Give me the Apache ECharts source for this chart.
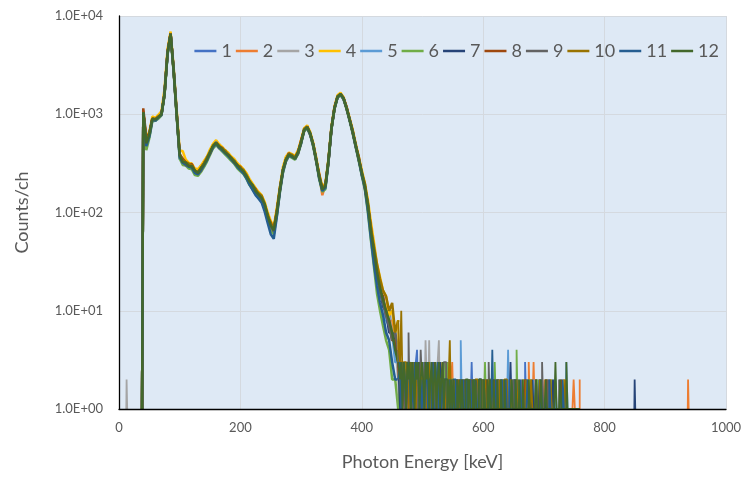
<!DOCTYPE html>
<html>
<head>
<meta charset="utf-8">
<script src="https://cdn.jsdelivr.net/npm/echarts@6/dist/echarts.min.js"></script>
<style>
html,body{margin:0;padding:0;background:#fff;}
#chart{width:746px;height:477px;}
</style>
</head>
<body>
<div id="chart"></div>
<script>
// ---------------- DATA ----------------
const seriesNames = ['1','2','3','4','5','6','7','8','9','10','11','12'];
const xTicks = [0, 200, 400, 600, 800, 1000];
const yTicks = [1, 10, 100, 1000, 10000];

// channel energies (keV) of the main spectrum part
const mainEnergy = [38,40,45,50,55,60,65,70,75,80,
  85,90,95,100,105,110,115,120,125,130,
  135,140,145,150,155,160,165,170,175,180,
  185,190,195,200,205,210,215,220,225,230,
  235,240,245,250,255,260,265,270,275,280,
  285,290,295,300,305,310,315,320,325,330,
  335,340,345,350,355,360,365,370,375,380,
  385,390,395,400,405,410,415,420,425,430,
  435,440,445,450,455,460];

// channel energies (keV) of the low-count tail
const tailEnergy = [462,464,466,468,470,472,474,476,478,480,
  482,484,486,488,490,492,494,496,498,500,
  502,504,506,508,510,512,514,516,518,520,
  522,524,526,528,530,532,534,536,538,540,
  542,544,546,548,550,552,554,556,558,560,
  562,564,566,568,570,572,574,576,578,580,
  582,584,586,588,590,592,594,596,598,600,
  602,604,606,608,610,612,614,616,618,620,
  622,624,626,628,630,632,634,636,638,640,
  642,644,646,648,650,652,654,656,658,660,
  662,664,666,668,670,672,674,676,678,680,
  682,684,686,688,690,692,694,696,698,700,
  702,704,706,708,710,712,714,716,718,720,
  722,724,726,728,730,732,734,736,738,740,
  742,744,746,748,750,752,754,756,758,760];

// counts/ch, main part
const main1 = [1,1020,560,590,930,850,960,980,1700,4050, 6400,2950,1060,350,355,300,320,280,275,240,
  300,295,370,395,495,485,495,420,430,365, 370,315,315,265,275,222,215,175,172,142,
  148,110,98,68,70,94,178,255,360,375, 390,345,425,500,715,720,650,470,355,218,
  180,176,345,700,1180,1470,1630,1420,1180,860, 680,465,365,238,195,112,70,36,28,15, 14,9,11,5,6,3];
const main2 = [1,1080,505,650,880,905,920,1030,1560,4350, 6750,2700,970,395,318,338,290,310,250,265,
  270,322,338,425,455,528,455,458,398,400, 342,345,290,292,250,246,198,192,158,160,
  134,124,88,78,64,104,165,275,335,402, 362,372,398,535,670,760,612,505,328,240,
  150,192,318,740,1120,1530,1570,1480,1120,900, 640,495,338,262,178,125,60,44,23,18, 12,11,7,8,4,3];
const main3 = [1,1000,540,600,915,870,955,985,1630,4150, 6550,2870,1020,370,340,312,308,288,266,250,
  286,304,358,402,478,502,478,432,418,378, 362,324,306,274,266,230,210,180,168,148,
  143,115,94,72,67,98,172,260,350,385, 380,355,416,515,700,735,638,485,345,228,
  175,183,335,712,1160,1490,1610,1440,1160,875, 665,475,355,245,188,118,67,39,26,16, 13,8,9,6,5,2];
const main4 = [1,1040,570,670,950,920,990,1080,1820,4650, 6950,3050,1120,430,420,345,320,315,280,275,
  300,335,372,440,500,545,495,465,430,405, 372,350,318,298,276,252,220,198,178,162,
  150,128,100,82,72,112,182,290,370,408, 392,378,432,552,722,770,662,512,362,246,
  185,198,352,760,1210,1560,1660,1490,1190,920, 700,505,372,270,200,135,80,50,30,22, 16,14,9,10,6,8];
const main5 = [1,1030,495,590,870,880,920,1000,1580,4150, 6450,2800,990,365,320,322,288,298,252,258,
  268,312,342,418,462,520,462,448,405,392, 350,338,292,286,254,240,200,190,162,155,
  136,120,88,75,64,96,162,270,340,395, 368,365,405,522,684,748,625,495,335,232,
  168,180,325,725,1140,1510,1590,1460,1140,885, 650,485,342,255,180,124,60,42,24,17, 12,8,7,6,3,3];
const main6 = [1,990,430,570,850,860,900,975,1550,4000, 6250,2680,950,352,305,300,280,275,240,236,
  258,290,330,385,450,485,450,418,388,362, 335,312,282,262,246,220,190,172,154,140,
  130,108,84,66,60,92,158,250,330,375, 360,345,392,500,670,715,610,468,325,214,
  162,172,315,700,1120,1470,1560,1410,1120,850, 635,460,332,236,172,100,52,28,15,10, 7,5,4,2,2,1];
const main7 = [1,1060,530,630,900,890,945,1010,1620,4250, 6650,2830,1015,388,335,318,305,300,262,252,
  282,315,350,408,472,515,472,436,415,380, 360,328,304,276,265,232,208,182,168,150,
  142,117,93,73,68,99,170,268,345,392, 376,358,412,518,692,742,632,488,342,226,
  170,188,328,722,1152,1505,1605,1445,1155,878, 662,478,352,248,186,119,64,41,26,17, 11,10,6,6,5,3];
const main8 = [1,1150,575,640,905,875,945,995,1625,4300, 6600,2860,1035,392,352,326,306,312,266,254,
  282,316,356,398,472,508,472,456,408,387, 353,332,298,292,258,238,203,188,174,150,
  141,117,90,79,66,103,168,266,343,402, 373,362,408,542,688,752,628,492,338,242,
  172,186,332,718,1185,1495,1600,1448,1185,878, 662,478,368,248,186,118,72,38,26,16, 14,9,8,5,5,3];
const main9 = [1,1040,510,610,890,870,930,990,1590,4170, 6570,2770,990,375,325,302,296,290,258,250,
  265,305,345,405,465,505,452,435,405,380, 350,318,296,276,255,230,196,180,160,148,
  136,114,86,72,64,98,166,260,332,385, 370,355,396,515,685,735,625,475,335,225,
  170,182,325,698,1145,1495,1595,1418,1145,875, 655,465,345,246,182,110,62,38,22,16, 12,9,7,5,6,4];
const main10 = [1,1045,530,630,910,890,950,1010,1610,4230, 6630,2830,1010,385,336,326,314,300,265,260,
  285,316,364,416,476,516,476,446,428,390, 360,336,305,285,272,240,210,190,170,157,
  148,122,95,77,69,104,178,270,350,395, 388,364,415,525,708,745,635,495,345,234,
  175,194,335,725,1155,1535,1605,1455,1155,885, 685,485,355,255,198,125,70,45,30,21, 16,14,10,12,6,8];
const main11 = [1,1035,475,595,880,860,925,985,1585,4140, 6490,2770,985,368,320,310,292,286,252,244,
  270,302,342,402,462,502,460,430,400,375, 345,320,290,270,250,222,192,170,150,138,
  126,102,78,60,54,90,162,258,338,382, 368,352,402,512,682,732,622,482,332,222,
  166,178,322,712,1140,1490,1590,1440,1140,872, 652,472,342,242,176,105,55,30,18,12, 9,6,5,3,2,2];
const main12 = [1,1050,505,625,895,885,935,1005,1600,4200, 6600,2800,1000,385,328,322,298,296,268,252,
  282,308,352,410,478,510,468,442,408,386, 355,328,302,280,262,234,206,190,165,152,
  140,122,92,74,66,100,170,270,345,390, 375,352,410,520,690,740,640,490,340,230,
  172,185,338,720,1150,1500,1610,1450,1150,880, 660,480,350,255,185,120,65,41,25,17, 13,10,8,6,4,3];

// counts/ch, tail part (1 = axis floor)
const tail1 = [3,2,2,1,3,1,2,1,2,3, 1,2,2,1,3,4,1,2,1,2, 2,1,3,2,1,2,3,1,2,2, 1,2,1,3,1,2,2,1,2,1, 1,2,1,2,1,1,2,1,1,2,
  1,2,1,2,1,1,2,1,2,1, 3,1,2,1,1,2,1,2,1,1, 2,1,2,1,1,1,2,1,2,1, 1,1,2,1,2,1,1,2,1,1, 2,1,1,1,1,2,1,1,2,1,
  1,2,1,1,3,1,1,1,2,1, 1,1,2,1,1,1,1,1,2,1, 1,1,1,1,2,1,1,1,1,2, 1,1,1,1,1,1,2,1,1,1, 1,1,1,1,1,1,1,1,1,1];
const tail2 = [2,3,3,1,2,2,1,2,3,1, 2,1,2,3,1,2,2,1,2,1, 3,1,3,1,2,1,2,2,1,3, 1,2,2,1,3,2,1,1,2,2, 2,1,1,2,3,1,1,1,2,1,
  1,1,2,1,2,1,2,1,1,2, 1,2,1,1,1,2,1,1,2,1, 1,2,1,2,1,1,1,1,2,1, 1,1,2,1,1,2,1,1,1,2, 2,1,1,1,2,1,1,2,1,1,
  1,1,2,1,1,1,1,3,1,1, 1,3,1,1,2,1,1,1,1,1, 2,1,1,1,1,2,1,1,1,1, 1,1,1,1,1,1,2,1,1,1, 1,1,1,1,2,1,1,1,1,2];
const tail3 = [1,3,2,1,2,2,1,3,3,1, 2,1,2,1,3,2,1,3,1,2, 2,1,5,2,1,5,1,2,2,1, 1,2,3,5,1,2,1,1,2,1, 1,3,1,2,1,2,1,1,1,2,
  1,2,1,2,1,1,2,1,1,1, 2,1,1,2,1,1,2,2,1,1, 1,1,2,1,2,1,1,1,1,2, 1,2,1,1,1,1,2,1,1,1, 1,2,1,1,2,1,1,1,2,1,
  1,1,1,2,1,1,1,1,1,2, 1,1,1,2,1,1,2,1,1,1, 1,1,1,1,2,1,1,1,1,1, 1,1,1,2,1,1,1,1,1,1, 1,1,1,1,1,1,1,1,1,1];
const tail4 = [2,3,1,3,2,2,1,2,2,1, 3,2,1,2,1,1,2,3,1,3, 1,2,2,1,3,2,1,1,3,1, 2,1,2,1,2,1,3,1,2,2, 1,1,2,1,2,1,2,1,1,1,
  1,2,1,1,2,1,1,2,1,2, 1,1,2,1,1,2,1,1,2,1, 1,2,1,1,2,1,1,1,2,1, 2,1,1,1,1,1,2,1,1,2, 1,1,2,1,1,1,1,2,1,1,
  1,1,1,2,1,1,1,1,2,1, 2,1,1,1,1,1,1,1,1,1, 1,2,1,1,1,2,1,1,1,1, 1,1,1,1,1,1,2,1,1,1, 1,1,1,1,1,1,1,1,1,1];
const tail5 = [3,2,1,2,2,1,3,2,1,2, 2,1,3,1,2,2,2,1,2,1, 3,1,2,2,1,3,1,2,1,3, 1,2,1,2,1,1,2,3,1,2, 1,2,1,1,1,2,1,1,2,1,
  1,5,1,2,1,1,2,1,1,2, 1,2,1,1,2,1,1,2,1,1, 2,1,1,1,1,1,2,1,2,1, 1,2,1,1,1,2,1,1,2,1, 4,1,1,2,1,2,1,1,1,1,
  1,1,1,1,1,1,2,1,1,1, 1,2,1,1,1,2,1,1,1,1, 1,1,1,1,1,1,1,1,2,1, 1,1,1,1,2,1,1,1,3,1, 1,1,1,1,1,1,1,1,1,1];
const tail6 = [1,2,2,1,2,3,1,3,2,1, 2,1,2,3,2,1,2,1,3,1, 2,2,1,3,2,1,2,1,2,1, 3,1,1,2,1,2,2,1,3,1, 3,1,1,2,2,1,1,2,1,1,
  1,1,2,1,1,2,1,2,1,1, 2,1,1,2,1,1,1,2,1,2, 1,3,1,1,1,2,2,1,1,3, 1,1,2,1,1,1,2,1,1,2, 1,1,2,1,1,1,1,4,1,1,
  1,1,1,2,1,1,1,1,2,1, 1,1,1,1,2,1,1,1,1,1, 1,1,2,1,1,1,2,1,1,1, 1,1,1,1,1,1,1,1,1,1, 1,1,1,1,1,1,1,1,1,1];
const tail7 = [2,1,2,3,2,1,2,3,2,1, 2,3,2,1,2,2,1,3,1,3, 1,2,1,2,3,1,2,1,2,2, 2,1,2,1,3,1,1,2,2,1, 1,2,1,1,1,2,1,1,2,1,
  1,2,1,1,2,1,1,1,2,1, 2,1,1,1,2,1,1,2,1,1, 2,1,1,2,1,1,1,1,1,2, 1,1,2,1,2,1,1,1,2,1, 1,1,3,1,1,2,1,2,1,1,
  1,1,1,1,2,1,1,1,1,1, 2,1,1,1,1,1,2,1,1,1, 1,2,1,1,1,1,1,2,1,1, 1,1,1,1,1,1,1,1,1,1, 1,1,1,1,1,1,1,1,1,1];
const tail8 = [2,3,2,1,2,2,1,3,1,2, 1,2,3,2,1,2,3,1,2,1, 2,1,2,3,1,2,1,2,1,3, 1,2,1,2,2,1,3,1,2,1, 2,1,2,1,1,1,2,1,1,2,
  1,2,1,1,1,2,1,1,1,2, 1,1,2,1,1,1,2,1,1,2, 1,1,2,1,1,2,1,1,2,1, 1,2,1,1,1,1,1,2,1,1, 1,1,2,1,1,1,2,1,1,1,
  1,1,1,1,2,1,1,1,1,1, 1,1,1,2,1,1,1,1,1,1, 1,1,2,1,1,1,1,1,1,1, 1,1,1,1,2,1,1,1,1,1, 1,1,1,1,1,1,1,1,1,1];
const tail9 = [3,2,1,2,3,1,2,2,6,1, 2,1,3,1,2,1,2,1,4,2, 1,3,1,2,1,2,2,1,3,1, 2,1,2,1,2,1,2,3,3,1, 1,1,2,1,2,1,1,2,1,1,
  1,1,2,1,1,2,1,1,2,1, 1,2,1,2,1,1,1,2,1,1, 1,2,1,1,3,1,1,2,1,1, 1,1,2,1,1,2,1,1,1,2, 1,1,1,2,1,2,1,1,1,1,
  1,1,1,1,1,2,1,1,1,1, 1,1,1,2,1,1,1,1,3,1, 1,1,1,2,1,1,1,1,1,1, 1,1,2,1,1,1,1,1,1,1, 1,1,1,1,1,1,1,1,1,1];
const tail10 = [4,3,10,2,3,3,2,2,1,2, 3,1,3,2,1,2,2,1,2,3, 1,2,2,1,2,3,1,2,2,1, 2,1,3,1,2,2,1,2,1,2, 1,2,5,1,2,1,2,1,1,1,
  2,1,1,2,1,1,2,1,1,2, 1,1,1,2,2,1,1,1,1,2, 1,2,1,1,2,1,1,1,2,1, 1,1,1,2,1,1,1,2,2,1, 1,1,2,1,1,1,1,2,1,1,
  1,1,1,1,1,2,1,1,1,2, 1,1,1,1,1,1,2,1,1,1, 1,1,1,1,1,2,1,1,1,1, 1,1,1,1,1,1,1,2,1,1, 1,1,1,1,1,1,1,1,1,1];
const tail11 = [2,3,1,2,3,2,1,2,3,2, 1,2,1,3,2,3,2,1,2,1, 2,1,2,3,1,2,2,1,3,1, 1,2,3,1,2,1,2,1,2,2, 1,1,2,1,1,2,2,1,1,1,
  1,2,1,2,1,1,2,1,1,2, 1,1,2,1,1,1,2,2,1,1, 2,1,1,1,1,2,1,4,1,1, 2,1,1,1,1,2,1,1,2,1, 1,2,1,1,1,1,2,1,1,1,
  2,1,1,1,1,1,2,1,1,1, 1,1,1,1,1,1,1,2,1,1, 1,1,1,1,2,1,1,1,1,1, 1,1,1,1,1,2,1,1,1,1, 1,1,1,1,1,1,1,1,1,1];
const tail12 = [3,2,3,1,3,2,1,3,2,3, 1,3,2,1,3,2,3,1,2,3, 2,1,3,2,3,1,2,3,1,2, 3,1,2,3,1,2,3,1,2,2, 1,2,1,2,1,2,1,1,2,1,
  2,1,2,1,1,2,2,1,2,1, 1,2,1,2,1,1,2,2,1,1, 2,1,1,2,1,2,1,1,2,1, 1,2,1,1,2,1,1,2,1,1, 1,1,1,2,1,1,2,1,1,2,
  1,1,2,1,1,1,1,2,1,1, 1,1,1,2,1,1,1,2,1,1, 1,2,1,1,1,1,1,1,1,3, 1,1,1,2,1,1,1,1,3,1, 1,1,1,1,1,1,1,1,1,1];

// isolated single-channel events away from the main spectrum
const strayName = ['3', '7', '2'];
const strayEnergy = [[12,13,14], [849,850,851], [937,938,939]];
const strayCounts = [[1,2,1], [1,2,1], [1,2,1]];

// ---------------- STYLE ----------------
const colors = ['#4472C4','#ED7D31','#A5A5A5','#FFC000','#5B9BD5','#70AD47',
                '#264478','#9E480E','#636363','#997300','#255E91','#43682B'];
const FONT = 'Lato, "Open Sans", "DejaVu Sans", sans-serif';
const TXT = '#595959';

const mains = [main1,main2,main3,main4,main5,main6,main7,main8,main9,main10,main11,main12];
const tails = [tail1,tail2,tail3,tail4,tail5,tail6,tail7,tail8,tail9,tail10,tail11,tail12];

function lineSeries(name, k, data, width, step) {
  return {
    name: name, type: 'line', xAxisIndex: 0,
    showSymbol: false, symbol: 'none',
    step: step || false,
    color: colors[k],
    lineStyle: { width: width, color: colors[k] },
    emphasis: { disabled: true },
    data: data
  };
}

const series = [];
seriesNames.forEach((name, k) => {
  series.push(lineSeries(name, k, mainEnergy.map((e, i) => [e, mains[k][i]]), 2.5, false));
});
seriesNames.forEach((name, k) => {
  const last = mainEnergy.length - 1;
  const d = [[mainEnergy[last], mains[k][last]]].concat(tailEnergy.map((e, i) => [e, tails[k][i]]));
  series.push(lineSeries(name, k, d, 1.8, 'middle'));
});
strayName.forEach((name, j) => {
  const k = seriesNames.indexOf(name);
  series.push(lineSeries(name, k, strayEnergy[j].map((e, i) => [e, strayCounts[j][i]]), 1.8, 'middle'));
});

const chart = echarts.init(document.getElementById('chart'), null, { renderer: 'canvas' });
chart.setOption({
  animation: false,
  backgroundColor: '#ffffff',
  textStyle: { fontFamily: FONT },
  grid: {
    left: 119, right: 20, top: 16, bottom: 68,
    show: true, backgroundColor: '#DEE9F5', borderWidth: 0
  },
  legend: {
    data: seriesNames,
    right: 22, top: 37,
    icon: 'rect',
    itemWidth: 22, itemHeight: 2.5, itemGap: 4,
    textStyle: { fontSize: 18, color: TXT, fontFamily: FONT }
  },
  xAxis: [{
    type: 'value',
    min: xTicks[0], max: xTicks[xTicks.length - 1],
    interval: xTicks[1] - xTicks[0],
    position: 'bottom',
    name: 'Photon Energy [keV]',
    nameLocation: 'middle',
    nameGap: 44,
    nameTextStyle: { fontSize: 18, color: TXT, fontFamily: FONT },
    axisLine: { show: false, onZero: false },
    axisTick: { show: false },
    axisLabel: { fontSize: 13, color: TXT, margin: 12, fontFamily: FONT, formatter: v => String(v) },
    splitLine: { show: true, lineStyle: { color: '#D4D9DF', width: 1 } }
  }, {
    type: 'value',
    min: xTicks[0], max: xTicks[xTicks.length - 1],
    position: 'bottom',
    z: 5,
    axisLine: { show: true, onZero: false, lineStyle: { color: '#000000', width: 1.3 } },
    axisTick: { show: false },
    axisLabel: { show: false },
    splitLine: { show: false }
  }],
  yAxis: {
    type: 'log',
    logBase: 10,
    min: yTicks[0], max: yTicks[yTicks.length - 1],
    name: 'Counts/ch',
    nameLocation: 'middle',
    nameGap: 88,
    nameTextStyle: { fontSize: 18, color: TXT, fontFamily: FONT },
    axisLine: { show: true, lineStyle: { color: '#000000', width: 1.3 } },
    axisTick: { show: false },
    axisLabel: {
      fontSize: 13, color: TXT, margin: 16, fontFamily: FONT,
      formatter: v => {
        const e = Math.round(Math.log10(v));
        return '1.0E+' + (e < 10 ? '0' : '') + e;
      }
    },
    splitLine: { show: true, lineStyle: { color: '#D4D9DF', width: 1 } }
  },
  series: series
});
</script>
</body>
</html>
